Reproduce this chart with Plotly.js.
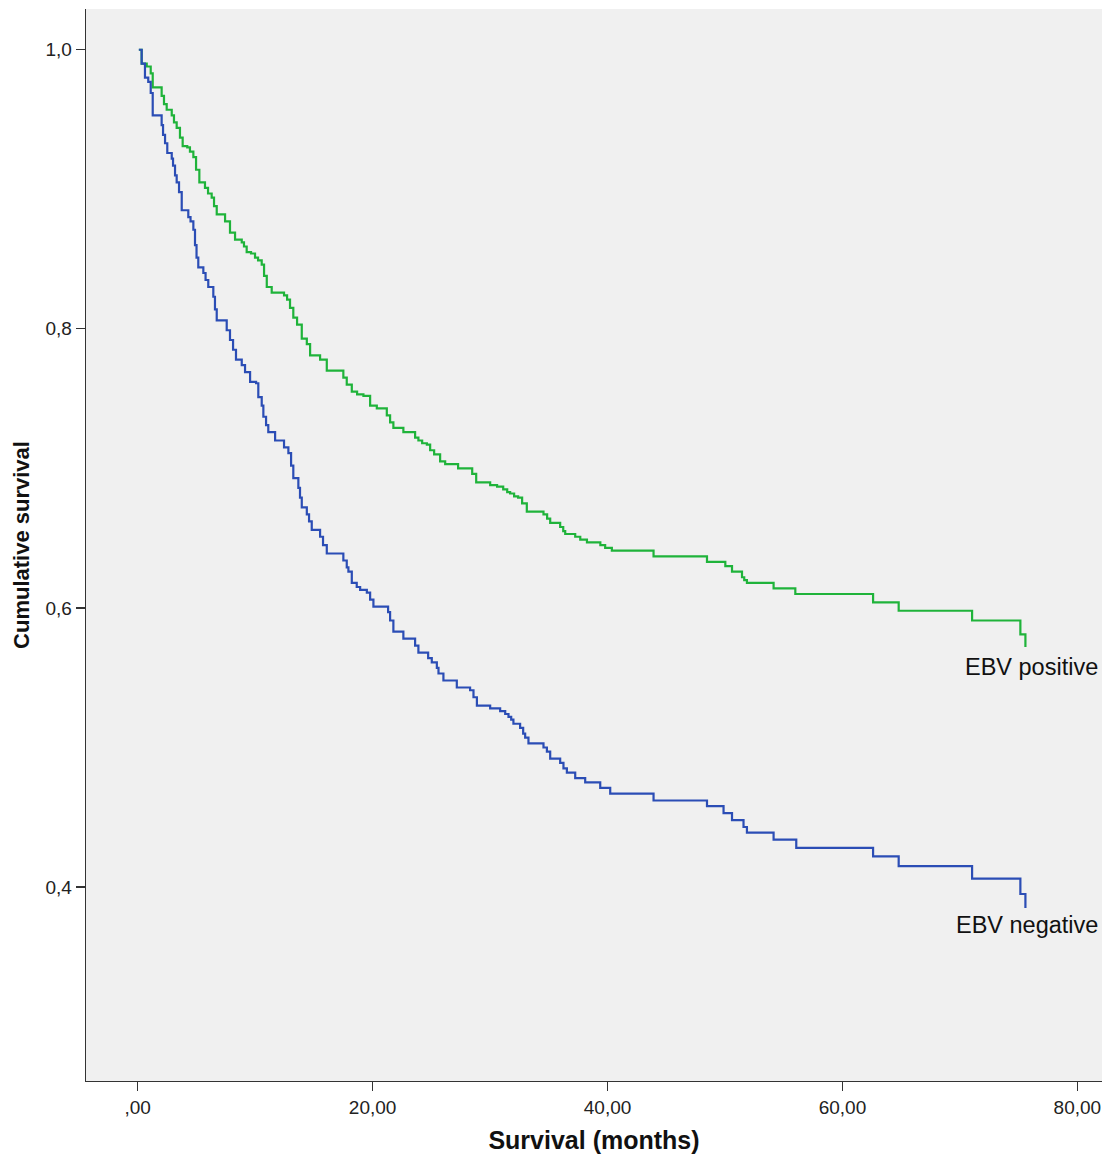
<!DOCTYPE html>
<html>
<head>
<meta charset="utf-8">
<script src="https://cdn.plot.ly/plotly-3.0.1.min.js"></script>
<style>html,body{margin:0;padding:0;background:#fff;}#chart{width:1116px;height:1161px;}</style>
</head>
<body>
<div id="chart"></div>
<script>
// EBV positive (months, cumulative survival)
const posTime = [0.1,0.34,0.77,1.11,1.28,2.04,2.24,2.47,2.90,3.09,3.32,3.60,3.83,4.22,4.45,4.74,4.97,5.25,5.73,5.99,6.30,6.50,6.73,7.44,7.86,8.29,8.86,9.05,9.28,9.65,9.99,10.25,10.56,10.76,10.99,11.41,12.46,12.72,12.97,13.25,13.57,13.97,14.40,14.68,15.53,16.10,17.51,17.80,18.23,18.68,19.22,19.79,20.36,21.21,21.49,21.77,22.62,23.62,23.90,24.22,24.62,24.90,25.24,25.75,26.18,27.28,28.48,28.82,30.01,30.60,31.12,31.46,31.71,32.05,32.39,32.73,33.13,34.55,34.86,35.12,35.97,36.23,36.40,37.25,37.68,38.25,39.39,39.80,40.37,43.92,48.47,50.03,50.60,51.45,51.64,51.87,54.14,55.99,62.61,64.79,71.04,75.15,75.58];
const posSurv = [1.000,0.990,0.988,0.983,0.973,0.967,0.961,0.957,0.953,0.948,0.944,0.937,0.931,0.930,0.927,0.923,0.914,0.905,0.901,0.897,0.894,0.888,0.882,0.877,0.869,0.864,0.862,0.859,0.855,0.854,0.851,0.849,0.846,0.838,0.830,0.826,0.824,0.821,0.815,0.808,0.803,0.793,0.789,0.781,0.778,0.770,0.765,0.760,0.755,0.753,0.752,0.745,0.743,0.738,0.733,0.729,0.726,0.722,0.720,0.718,0.717,0.713,0.710,0.705,0.703,0.700,0.696,0.690,0.688,0.687,0.685,0.683,0.682,0.680,0.679,0.675,0.669,0.667,0.664,0.661,0.658,0.655,0.653,0.651,0.649,0.647,0.645,0.643,0.641,0.637,0.633,0.630,0.626,0.622,0.620,0.618,0.614,0.610,0.604,0.598,0.591,0.581,0.572];

// EBV negative (months, cumulative survival)
const negTime = [0.1,0.34,0.62,0.90,1.11,1.28,2.04,2.16,2.33,2.52,2.90,3.01,3.18,3.32,3.52,3.75,4.31,4.50,4.74,4.88,5.01,5.16,5.59,5.78,6.01,6.44,6.58,6.73,7.58,7.86,8.12,8.37,8.86,9.14,9.57,10.08,10.27,10.56,10.70,10.93,11.12,11.70,12.46,12.83,13.06,13.25,13.68,13.82,13.97,14.40,14.59,14.82,15.53,15.78,16.10,17.51,17.80,17.94,18.23,18.65,18.94,19.51,19.79,20.07,21.32,21.49,21.77,22.62,23.62,23.90,24.73,25.04,25.47,25.61,26.03,27.17,28.30,28.59,28.88,30.01,30.86,31.29,31.57,31.80,31.99,32.56,32.82,32.99,33.27,34.55,34.84,35.12,35.97,36.25,36.54,37.25,38.10,39.38,40.23,43.92,48.47,49.88,50.60,51.58,51.87,54.14,56.07,62.61,64.79,71.04,75.15,75.58];
const negSurv = [1.000,0.990,0.980,0.977,0.969,0.953,0.946,0.939,0.933,0.926,0.922,0.917,0.910,0.905,0.898,0.885,0.880,0.877,0.871,0.860,0.851,0.844,0.840,0.835,0.830,0.823,0.814,0.806,0.799,0.792,0.785,0.778,0.774,0.769,0.762,0.761,0.751,0.745,0.737,0.731,0.726,0.720,0.715,0.711,0.702,0.693,0.686,0.679,0.672,0.667,0.662,0.656,0.651,0.645,0.639,0.634,0.629,0.626,0.618,0.615,0.613,0.611,0.606,0.601,0.597,0.591,0.583,0.578,0.573,0.568,0.564,0.561,0.557,0.553,0.548,0.543,0.541,0.536,0.530,0.528,0.526,0.524,0.522,0.520,0.517,0.514,0.510,0.507,0.503,0.500,0.497,0.492,0.489,0.485,0.482,0.478,0.475,0.471,0.467,0.462,0.458,0.453,0.448,0.443,0.439,0.434,0.428,0.422,0.415,0.406,0.395,0.385];

const xTickVals = [0,20,40,60,80];
const xTickText = [",00","20,00","40,00","60,00","80,00"];
const yTickVals = [0.4,0.6,0.8,1.0];
const yTickText = ["0,4","0,6","0,8","1,0"];
const seriesNames = ["EBV positive","EBV negative"];

const FONT = 'Liberation Sans, Arial, sans-serif';

const traces = [
  {x: posTime, y: posSurv, type:'scatter', mode:'lines', name: seriesNames[0],
   line:{shape:'hv', color:'#1fb33a', width:2.2}},
  {x: negTime, y: negSurv, type:'scatter', mode:'lines', name: seriesNames[1],
   line:{shape:'hv', color:'#2b4db5', width:2.2}}
];

const layout = {
  width:1116, height:1161,
  margin:{l:86, r:14, t:9, b:80},
  paper_bgcolor:'#ffffff', plot_bgcolor:'#f0f0f0',
  showlegend:false,
  font:{family:FONT, color:'#222'},
  xaxis:{
    range:[-4.4, 82.1], tickmode:'array', tickvals:xTickVals, ticktext:xTickText,
    showgrid:false, zeroline:false, showline:true, linecolor:'#333', linewidth:1.3,
    ticks:'outside', ticklen:9, tickcolor:'#333', tickwidth:1.3,
    tickfont:{size:19, family:FONT, color:'#222'},
    title:{text:'<b>Survival (months)</b>', font:{size:25, family:FONT, color:'#111'}, standoff:14}
  },
  yaxis:{
    range:[0.261, 1.0292], tickmode:'array', tickvals:yTickVals, ticktext:yTickText,
    showgrid:false, zeroline:false, showline:true, linecolor:'#333', linewidth:1.3,
    ticks:'outside', ticklen:9, tickcolor:'#333', tickwidth:1.3,
    tickfont:{size:19, family:FONT, color:'#222'},
    title:{text:'<b>Cumulative survival</b>', font:{size:22, family:FONT, color:'#111'}, standoff:9}
  },
  annotations:[
    {x:81.9, y:0.5576, xref:'x', yref:'y', text:seriesNames[0], showarrow:false,
     xanchor:'right', yanchor:'middle', font:{size:23.5, family:FONT, color:'#111'}},
    {x:81.9, y:0.3728, xref:'x', yref:'y', text:seriesNames[1], showarrow:false,
     xanchor:'right', yanchor:'middle', font:{size:23.5, family:FONT, color:'#111'}}
  ]
};

Plotly.newPlot('chart', traces, layout, {displayModeBar:false, staticPlot:true});
</script>
</body>
</html>
